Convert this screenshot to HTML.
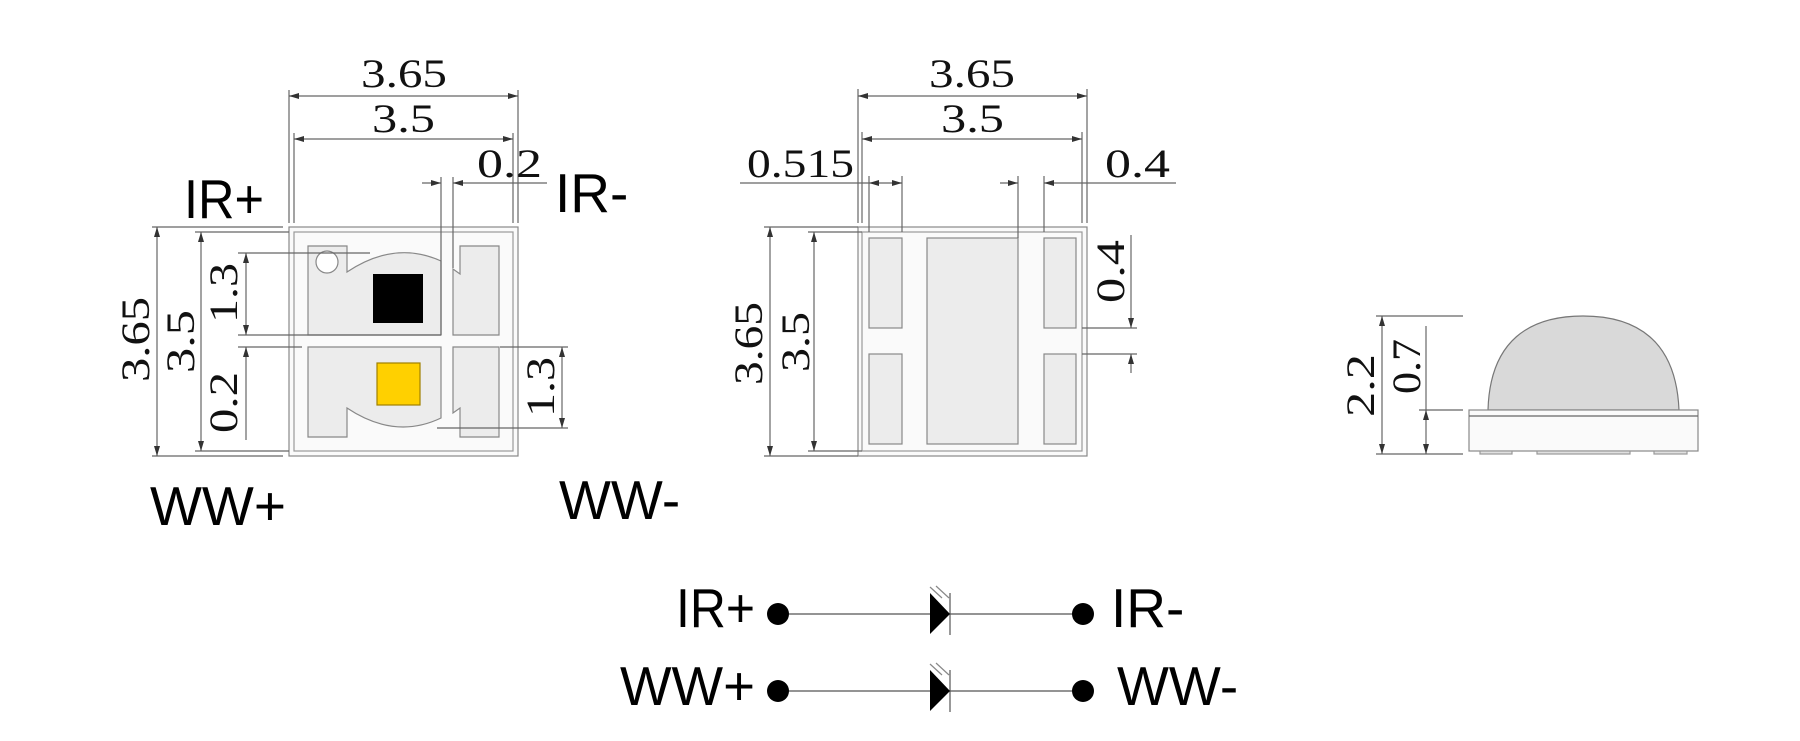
<!DOCTYPE html>
<html><head><meta charset="utf-8"><style>
html,body{margin:0;padding:0;background:#fff;}
svg{display:block}
.d{font-family:"Liberation Serif",serif;font-size:40px;fill:#111}
.l{font-family:"Liberation Sans",sans-serif;font-size:55px;fill:#000}
</style></head><body>
<svg width="1800" height="741" viewBox="0 0 1800 741" xmlns="http://www.w3.org/2000/svg">
<defs>
<marker id="a" viewBox="0 0 10 6" refX="10" refY="3" markerWidth="10" markerHeight="6" orient="auto-start-reverse" markerUnits="userSpaceOnUse"><path d="M0,0 L10,3 L0,6z" fill="#333"/></marker>
</defs>
<g stroke="#666" stroke-width="1.2" fill="none">
<!-- VIEW 1 -->
<rect x="289" y="227" width="229" height="229" fill="#fafafa" stroke="#888"/>
<rect x="294" y="232" width="219" height="219" stroke="#999"/>
<path d="M308,246 L347,246 L347,272 Q395,240 441,261 L441,335 L308,335Z" fill="#ececec" stroke="#888"/>
<path d="M460,246 L499,246 L499,335 L453,335 L453,269 L460,274Z" fill="#ececec" stroke="#888"/>
<path d="M308,347 L441,347 L441,418 Q395,440 347,408 L347,437 L308,437Z" fill="#ececec" stroke="#888"/>
<path d="M453,347 L499,347 L499,437 L460,437 L460,408 L453,413Z" fill="#ececec" stroke="#888"/>
<circle cx="327" cy="262" r="11" fill="#fff" stroke="#888"/>
<rect x="373" y="274" width="50" height="49" fill="#000" stroke="none"/>
<rect x="377" y="363" width="43" height="42" fill="#FFD000" stroke="#a08000"/>
<line x1="289" y1="90" x2="289" y2="223"/><line x1="518" y1="90" x2="518" y2="223"/>
<line x1="294" y1="133" x2="294" y2="223"/><line x1="513" y1="133" x2="513" y2="223"/>
<line x1="289" y1="96" x2="518" y2="96" marker-start="url(#a)" marker-end="url(#a)"/>
<line x1="294" y1="139" x2="513" y2="139" marker-start="url(#a)" marker-end="url(#a)"/>
<line x1="441" y1="177" x2="441" y2="335"/><line x1="453" y1="177" x2="453" y2="268"/>
<line x1="422" y1="183" x2="441" y2="183" marker-end="url(#a)"/>
<line x1="547" y1="183" x2="453" y2="183" marker-end="url(#a)"/>
<line x1="152" y1="227" x2="283" y2="227"/><line x1="152" y1="456" x2="283" y2="456"/>
<line x1="157" y1="227" x2="157" y2="456" marker-start="url(#a)" marker-end="url(#a)"/>
<line x1="195" y1="232" x2="289" y2="232"/><line x1="195" y1="451" x2="289" y2="451"/>
<line x1="201" y1="232" x2="201" y2="451" marker-start="url(#a)" marker-end="url(#a)"/>
<line x1="238" y1="253" x2="370" y2="253"/><line x1="238" y1="335" x2="441" y2="335"/>
<line x1="238" y1="347" x2="302" y2="347"/>
<line x1="246" y1="253" x2="246" y2="335" marker-start="url(#a)" marker-end="url(#a)"/>
<line x1="246" y1="347" x2="246" y2="440" marker-start="url(#a)"/>
<line x1="500" y1="347" x2="568" y2="347"/><line x1="437" y1="428" x2="568" y2="428"/>
<line x1="562" y1="347" x2="562" y2="428" marker-start="url(#a)" marker-end="url(#a)"/>

<!-- VIEW 2 -->
<rect x="858" y="227" width="229" height="229" fill="#fafafa" stroke="#888"/>
<rect x="862" y="232" width="220" height="219" stroke="#999"/>
<rect x="869" y="238" width="33" height="90" fill="#ececec" stroke="#888"/>
<rect x="869" y="354" width="33" height="90" fill="#ececec" stroke="#888"/>
<rect x="927" y="238" width="91" height="206" fill="#ececec" stroke="#888"/>
<rect x="1044" y="238" width="32" height="90" fill="#ececec" stroke="#888"/>
<rect x="1044" y="354" width="32" height="90" fill="#ececec" stroke="#888"/>
<line x1="858" y1="89" x2="858" y2="223"/><line x1="1087" y1="89" x2="1087" y2="223"/>
<line x1="862" y1="132" x2="862" y2="223"/><line x1="1082" y1="132" x2="1082" y2="223"/>
<line x1="858" y1="96" x2="1087" y2="96" marker-start="url(#a)" marker-end="url(#a)"/>
<line x1="862" y1="139" x2="1082" y2="139" marker-start="url(#a)" marker-end="url(#a)"/>
<line x1="869" y1="176" x2="869" y2="232"/><line x1="902" y1="176" x2="902" y2="232"/>
<line x1="740" y1="183" x2="869" y2="183"/>
<line x1="869" y1="183" x2="902" y2="183" marker-start="url(#a)" marker-end="url(#a)"/>
<line x1="1018" y1="176" x2="1018" y2="238"/><line x1="1044" y1="176" x2="1044" y2="232"/>
<line x1="1000" y1="183" x2="1018" y2="183" marker-end="url(#a)"/>
<line x1="1176" y1="183" x2="1044" y2="183" marker-end="url(#a)"/>
<line x1="764" y1="227" x2="858" y2="227"/><line x1="764" y1="456" x2="858" y2="456"/>
<line x1="770" y1="227" x2="770" y2="456" marker-start="url(#a)" marker-end="url(#a)"/>
<line x1="808" y1="232" x2="862" y2="232"/><line x1="808" y1="451" x2="862" y2="451"/>
<line x1="814" y1="232" x2="814" y2="451" marker-start="url(#a)" marker-end="url(#a)"/>
<line x1="1082" y1="328" x2="1137" y2="328"/><line x1="1082" y1="354" x2="1137" y2="354"/>
<line x1="1131" y1="235" x2="1131" y2="328" marker-end="url(#a)"/>
<line x1="1131" y1="373" x2="1131" y2="354" marker-end="url(#a)"/>

<!-- VIEW 3 -->
<path d="M1488,410 C1490,340 1530,316 1583,316 C1636,316 1676,340 1679,410Z" fill="#d9d9d9" stroke="#777"/>
<rect x="1469" y="410" width="229" height="41" fill="#fafafa" stroke="#888"/>
<line x1="1469" y1="416" x2="1698" y2="416"/>
<rect x="1480" y="451" width="32" height="3" fill="#e0e0e0" stroke="#999"/>
<rect x="1537" y="451" width="93" height="3" fill="#e0e0e0" stroke="#999"/>
<rect x="1654" y="451" width="33" height="3" fill="#e0e0e0" stroke="#999"/>
<line x1="1376" y1="316" x2="1463" y2="316"/><line x1="1376" y1="454" x2="1463" y2="454"/>
<line x1="1419" y1="410" x2="1463" y2="410"/>
<line x1="1382" y1="316" x2="1382" y2="454" marker-start="url(#a)" marker-end="url(#a)"/>
<line x1="1426" y1="326" x2="1426" y2="410"/>
<line x1="1426" y1="410" x2="1426" y2="454" marker-start="url(#a)" marker-end="url(#a)"/>

<!-- schematic -->
<line x1="778" y1="614" x2="1083" y2="614" stroke="#555"/>
<line x1="778" y1="691" x2="1083" y2="691" stroke="#555"/>
<line x1="950" y1="593" x2="950" y2="635" stroke="#555"/>
<line x1="950" y1="670" x2="950" y2="712" stroke="#555"/>
<line x1="930" y1="587" x2="942" y2="598" stroke="#888"/><line x1="936" y1="586" x2="949" y2="598" stroke="#888"/>
<line x1="930" y1="664" x2="942" y2="675" stroke="#888"/><line x1="936" y1="663" x2="949" y2="675" stroke="#888"/>
</g>
<g fill="#000">
<path d="M930,593 L950,614 L930,634Z"/><path d="M930,670 L950,691 L930,711Z"/>
<circle cx="778" cy="614" r="11"/><circle cx="1083" cy="614" r="11"/>
<circle cx="778" cy="691" r="11"/><circle cx="1083" cy="691" r="11"/>
</g>
<g class="d">
<text x="361" y="87" textLength="86" lengthAdjust="spacingAndGlyphs">3.65</text>
<text x="372" y="132" textLength="63" lengthAdjust="spacingAndGlyphs">3.5</text>
<text x="477" y="177" textLength="65" lengthAdjust="spacingAndGlyphs">0.2</text>
<text transform="translate(149,340) rotate(-90)" x="-42" y="0" textLength="85" lengthAdjust="spacingAndGlyphs">3.65</text>
<text transform="translate(194,342) rotate(-90)" x="-31" y="0" textLength="63" lengthAdjust="spacingAndGlyphs">3.5</text>
<text transform="translate(237,293) rotate(-90)" x="-30" y="0" textLength="60" lengthAdjust="spacingAndGlyphs">1.3</text>
<text transform="translate(237,403) rotate(-90)" x="-30" y="0" textLength="61" lengthAdjust="spacingAndGlyphs">0.2</text>
<text transform="translate(554,387) rotate(-90)" x="-30" y="0" textLength="60" lengthAdjust="spacingAndGlyphs">1.3</text>
<text x="929" y="87" textLength="86" lengthAdjust="spacingAndGlyphs">3.65</text>
<text x="941" y="132" textLength="63" lengthAdjust="spacingAndGlyphs">3.5</text>
<text x="747" y="177" textLength="107" lengthAdjust="spacingAndGlyphs">0.515</text>
<text x="1105" y="177" textLength="65" lengthAdjust="spacingAndGlyphs">0.4</text>
<text transform="translate(1124,272) rotate(-90)" x="-31" y="0" textLength="63" lengthAdjust="spacingAndGlyphs">0.4</text>
<text transform="translate(762,343) rotate(-90)" x="-42" y="0" textLength="83" lengthAdjust="spacingAndGlyphs">3.65</text>
<text transform="translate(809,342) rotate(-90)" x="-30" y="0" textLength="60" lengthAdjust="spacingAndGlyphs">3.5</text>
<text transform="translate(1374,386) rotate(-90)" x="-31" y="0" textLength="63" lengthAdjust="spacingAndGlyphs">2.2</text>
<text transform="translate(1420,367) rotate(-90)" x="-27" y="0" textLength="55" lengthAdjust="spacingAndGlyphs">0.7</text>
</g>
<g class="l">
<text x="184" y="218" textLength="80" lengthAdjust="spacingAndGlyphs">IR+</text>
<text x="555" y="212">IR-</text>
<text x="150" y="525" textLength="136" lengthAdjust="spacingAndGlyphs">WW+</text>
<text x="559" y="519">WW-</text>
<text x="676" y="627" textLength="79" lengthAdjust="spacingAndGlyphs">IR+</text>
<text x="1111" y="627">IR-</text>
<text x="620" y="705" textLength="135" lengthAdjust="spacingAndGlyphs">WW+</text>
<text x="1117" y="705">WW-</text>
</g>
</svg>
</body></html>
